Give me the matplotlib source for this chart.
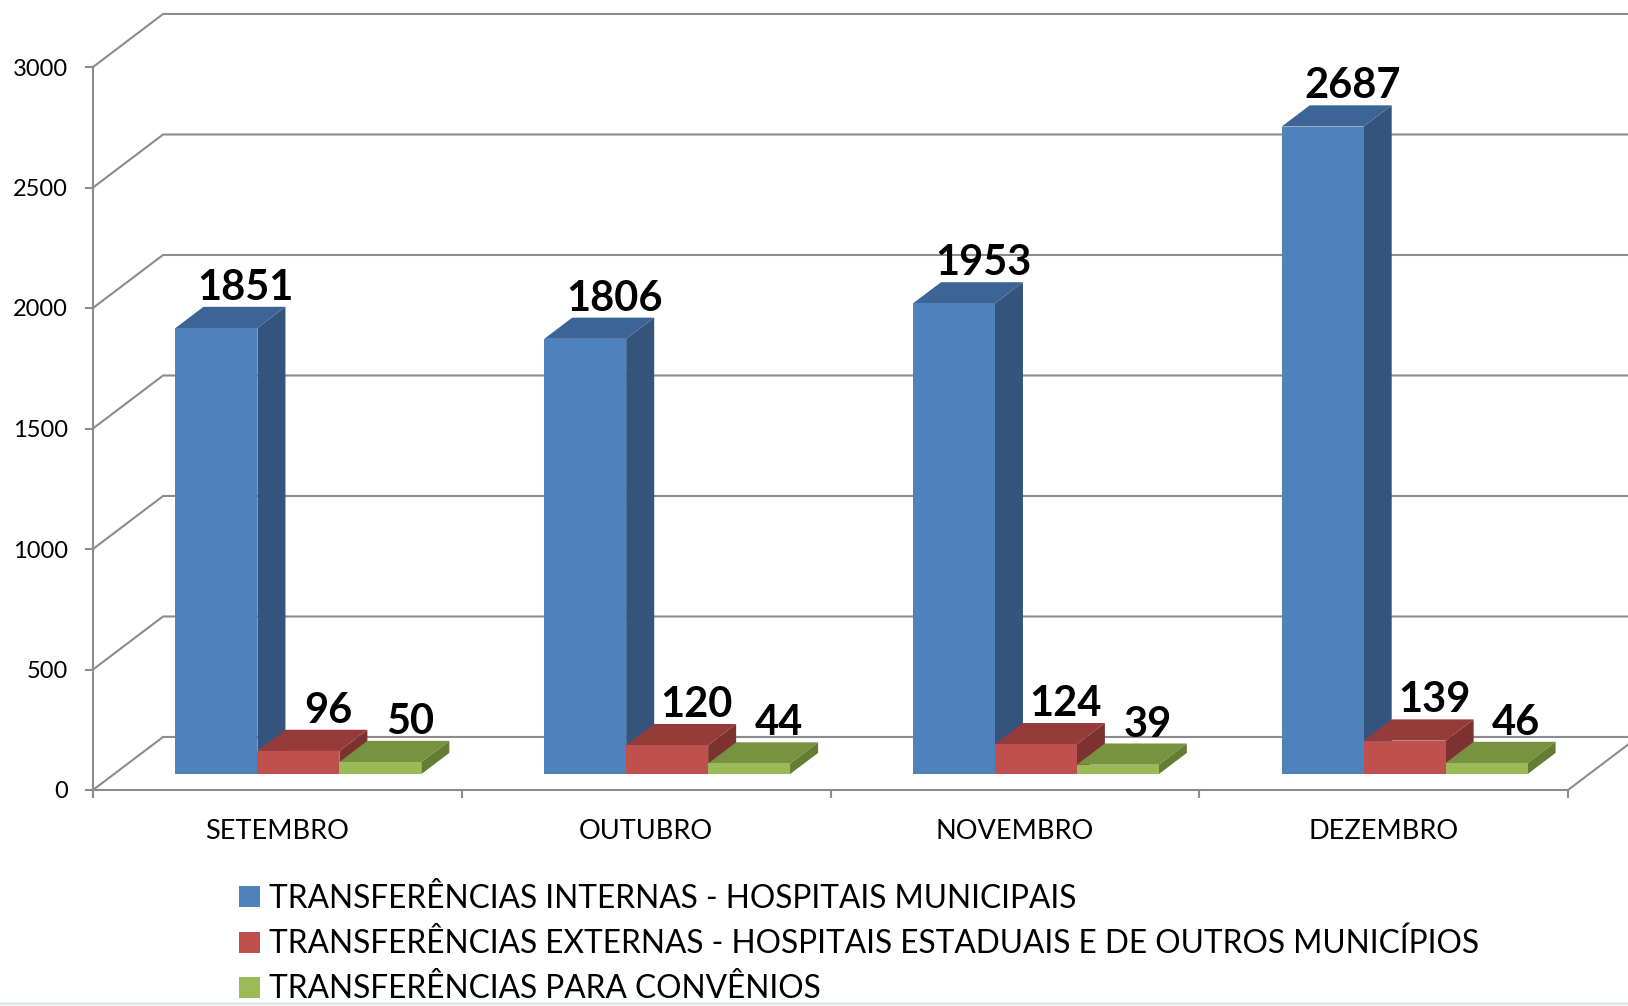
import matplotlib
matplotlib.use("Agg")
import matplotlib.pyplot as plt
from matplotlib.lines import Line2D
from matplotlib.patches import Polygon, Patch, Rectangle

plt.rcParams["font.family"] = ["Lato", "DejaVu Sans"]

# ── Data ────────────────────────────────────────────────────────────────
months = ["SETEMBRO", "OUTUBRO", "NOVEMBRO", "DEZEMBRO"]
series_names = [
    "TRANSFERÊNCIAS INTERNAS - HOSPITAIS MUNICIPAIS",
    "TRANSFERÊNCIAS EXTERNAS - HOSPITAIS ESTADUAIS E DE OUTROS MUNICÍPIOS",
    "TRANSFERÊNCIAS PARA CONVÊNIOS",
]
internas = [1851, 1806, 1953, 2687]
externas = [96, 120, 124, 139]
convenios = [50, 44, 39, 46]
y_ticks = [0, 500, 1000, 1500, 2000, 2500, 3000]

# face colours: front, top, side
colors = [
    ("#4F81BD", "#3C6497", "#34547E"),
    ("#C0504D", "#953C3A", "#7E3230"),
    ("#9BBB59", "#77933F", "#647C33"),
]
grid_col = "#8C8C8C"

# ── 3D-ish projection (oblique offsets in data units) ──────────────────
DX = 0.19      # depth shift along x (categories)
DY = 220       # depth shift along y (values)
front_d, bar_d = 0.3, 0.4
bar_w = 2 / 9

fig = plt.figure(figsize=(16.28, 10.06), dpi=100)
ax = fig.add_axes([93 / 1628, 216 / 1006, 1475 / 1628, 723 / 1006])
ax.set_xlim(0, len(months))
ax.set_ylim(0, 3000)

# back wall / side wall grid
for v in y_ticks:
    ax.plot([0, DX, len(months) + DX], [v, v + DY, v + DY],
            color=grid_col, lw=1.5, clip_on=False, zorder=1)
ax.plot([len(months), len(months) + DX], [0, DY], color=grid_col, lw=1.5,
        clip_on=False, zorder=1)

# bars
all_series = [internas, externas, convenios]
for i in range(len(months)):
    for j, vals in enumerate(all_series):
        v = vals[i]
        x0 = i + 1 / 6 + j * bar_w + front_d * DX
        x1 = x0 + bar_w
        y0 = front_d * DY
        y1 = y0 + v
        ddx, ddy = bar_d * DX, bar_d * DY
        fc, tc, sc = colors[j]
        side = Polygon([(x1, y0), (x1 + ddx, y0 + ddy), (x1 + ddx, y1 + ddy), (x1, y1)],
                       closed=True, fc=sc, ec="none", clip_on=False, zorder=3)
        top = Polygon([(x0, y1), (x1, y1), (x1 + ddx, y1 + ddy), (x0 + ddx, y1 + ddy)],
                      closed=True, fc=tc, ec="none", clip_on=False, zorder=3)
        front = Polygon([(x0, y0), (x1, y0), (x1, y1), (x0, y1)],
                        closed=True, fc=fc, ec="none", clip_on=False, zorder=3)
        for p in (side, top, front):
            ax.add_patch(p)
        ax.annotate(str(v), xy=((x0 + x1) / 2 + 0.08, y1 + ddy),
                    xytext=(0, 5), textcoords="offset points",
                    ha="center", va="baseline", fontsize=30,
                    fontweight="bold", color="black", zorder=5,
                    annotation_clip=False)

# axes styling
for s in ("top", "right"):
    ax.spines[s].set_visible(False)
for s in ("left", "bottom"):
    ax.spines[s].set_color(grid_col)
    ax.spines[s].set_linewidth(1.5)
    ax.spines[s].set_zorder(2)
ax.set_yticks(y_ticks)
ax.set_yticklabels([str(t) for t in y_ticks])
ax.tick_params(axis="y", direction="out", length=6, width=1.5, color=grid_col,
               labelsize=17, pad=12)
ax.set_xticks(range(len(months) + 1))
ax.set_xticklabels([])
ax.set_xticks([i + 0.5 for i in range(len(months))], minor=True)
ax.set_xticklabels(months, minor=True)
ax.tick_params(axis="x", which="major", direction="out", length=6, width=1.5,
               color=grid_col)
ax.tick_params(axis="x", which="minor", length=0, labelsize=19.5, pad=21)
ax.patch.set_alpha(0)

handles = [Patch(facecolor=c[0], edgecolor="none") for c in colors]
fig.legend(handles, series_names, loc="upper left",
           bbox_to_anchor=(239 / 1628, 1 - 884 / 1006), frameon=False,
           fontsize=22.8, handlelength=0.65, handleheight=0.65, handletextpad=0.3,
           labelspacing=0.47, borderpad=0, borderaxespad=0)

# thin light border strip at the very bottom, as in the source image
fig.add_artist(Rectangle((0, 0), 1, 3 / 1006, transform=fig.transFigure,
                         fc="#F2F4F4", ec="none", zorder=10))
fig.add_artist(Line2D([0, 1], [3 / 1006, 3 / 1006], transform=fig.transFigure,
                      color="#D5DADA", lw=1, zorder=11))

fig.savefig("out.png", dpi=100, facecolor="white")
